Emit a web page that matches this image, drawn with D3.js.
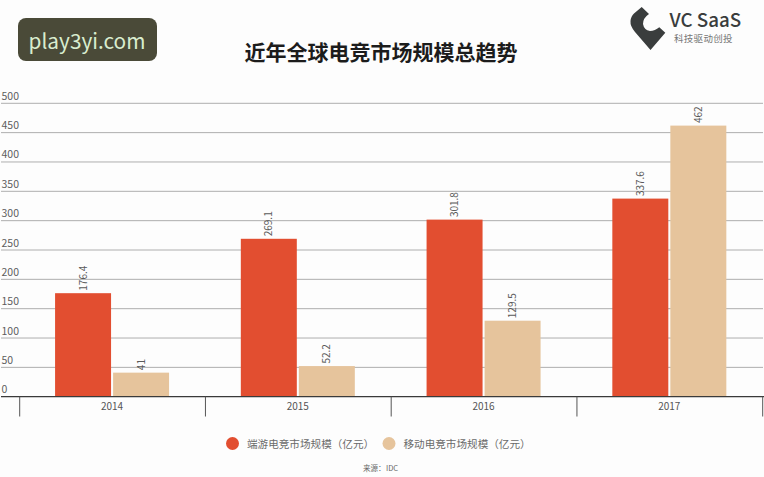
<!DOCTYPE html>
<html><head><meta charset="utf-8">
<script src="https://cdn.jsdelivr.net/npm/d3@7"></script>
<style>
html,body{margin:0;padding:0;background:#fdfdfd}
svg{display:block}
text{font-family:"Noto Sans CJK SC","Noto Sans",sans-serif}
</style></head><body>
<svg id="c" width="764" height="477"></svg>
<script>
const categories=["2014","2015","2016","2017"];
const pcValues=[176.4,269.1,301.8,337.6];
const mobileValues=[41,52.2,129.5,462];
const pcLabels=["176.4","269.1","301.8","337.6"];
const mobileLabels=["41","52.2","129.5","462"];
const yTicks=[0,50,100,150,200,250,300,350,400,450,500];
const seriesNames=["端游电竞市场规模（亿元）","移动电竞市场规模（亿元）"];
const titleText="近年全球电竞市场规模总趋势";
const RED="#e24e30",TAN="#e6c49c";

const svg=d3.select("#c");
const y=d3.scaleLinear().domain([0,500]).range([396.7,103.3]);
const x=d3.scaleBand().domain(categories).range([19.7,762.7]);
const inner=d3.scaleBand().domain([0,1]).range([-57.5,56.5]).paddingInner(0.035);

// grid
svg.append("g").selectAll("line").data(yTicks.slice(1)).join("line")
 .attr("x1",1).attr("x2",763).attr("y1",d=>y(d)).attr("y2",d=>y(d))
 .attr("stroke","#aeaeae").attr("stroke-width",1);
svg.append("g").selectAll("text").data(yTicks).join("text")
 .attr("x",1.5).attr("y",d=>y(d)-3.5).attr("font-size",10.5).attr("fill","#5d5d5d")
 .attr("font-family","Noto Sans").text(d=>d);

// bars
function drawSeries(vals,labels,i,color){
  const g=svg.append("g");
  const cx=c=>x(c)+x.bandwidth()/2+inner(i);
  g.selectAll("rect").data(categories).join("rect")
   .attr("x",cx).attr("width",inner.bandwidth())
   .attr("y",(c,k)=>y(vals[k])).attr("height",(c,k)=>y(0)-y(vals[k])).attr("fill",color);
  g.selectAll("text").data(categories).join("text")
   .attr("transform",(c,k)=>`translate(${cx(c)+inner.bandwidth()/2+3.5},${y(vals[k])-2.5}) rotate(-90)`)
   .attr("font-size",10).attr("fill","#5a5a5a").attr("font-family","Noto Sans").text((c,k)=>labels[k]);
}
drawSeries(pcValues,pcLabels,0,RED);
drawSeries(mobileValues,mobileLabels,1,TAN);

// x axis
svg.append("line").attr("x1",1).attr("x2",764).attr("y1",y(0)).attr("y2",y(0)).attr("stroke","#3a3a3a").attr("stroke-width",1.2);
const tickXs=categories.map(c=>x(c)).concat([x.range()[1]]);
svg.append("g").selectAll("line").data(tickXs).join("line")
 .attr("x1",d=>d).attr("x2",d=>d).attr("y1",y(0)).attr("y2",416.5).attr("stroke","#555").attr("stroke-width",1);
svg.append("g").selectAll("text").data(categories).join("text")
 .attr("x",c=>x(c)+x.bandwidth()/2-0.5).attr("y",410).attr("text-anchor","middle")
 .attr("font-size",10).attr("fill","#555").attr("font-family","Noto Sans").text(c=>c);

// title
svg.append("text").attr("x",381).attr("y",60).attr("text-anchor","middle")
 .attr("font-size",21).attr("font-weight",700).attr("fill","#1c1c1c").text(titleText);

// legend
const legend=[[232.5,247,RED],[389,403.5,TAN]];
legend.forEach((l,i)=>{
 svg.append("circle").attr("cx",l[0]).attr("cy",443.5).attr("r",6.5).attr("fill",l[2]);
 svg.append("text").attr("x",l[1]).attr("y",447.5).attr("font-size",10.6).attr("fill","#6a6a6a").text(seriesNames[i]);
});
svg.append("text").attr("x",363).attr("y",471).attr("font-size",7.5).attr("fill","#666").text("来源：");
svg.append("text").attr("x",386).attr("y",471).attr("font-size",7.5).attr("fill","#666").text("IDC");

// watermark
svg.append("rect").attr("x",18).attr("y",18).attr("width",139).attr("height",43).attr("rx",8).attr("fill","#4a4a38");
svg.append("text").attr("x",87).attr("y",49).attr("text-anchor","middle").attr("font-size",20.8).attr("fill","#d9edcf")
 .attr("font-family","Noto Sans").text("play3yi.com");

// logo
svg.append("path").attr("fill","#3a3d3d")
 .attr("d","M641.7 7 L649 14 Q643 18 643 24 Q644 30 650 31 Q655 31 659.3 27.3 L665.3 32.7 L650.5 50 L635 32 Q630 26 630.5 21 Q631 16 634 13.5 Z");
svg.append("text").attr("x",669.5).attr("y",26.5).attr("font-size",18.8).attr("font-weight",500).attr("fill","#3a3d3d")
 .attr("font-family","Noto Sans").text("VC SaaS");
svg.append("text").attr("x",674).attr("y",41.5).attr("font-size",9.5).attr("letter-spacing","0.3").attr("fill","#777").text("科技驱动创投");
</script></body></html>
